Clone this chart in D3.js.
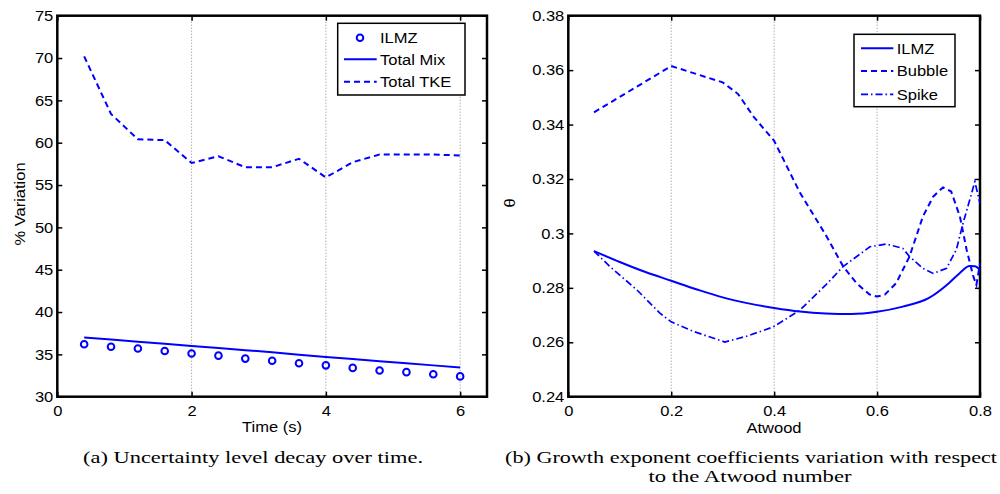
<!DOCTYPE html>
<html>
<head>
<meta charset="utf-8">
<script src="https://cdn.jsdelivr.net/npm/d3@7"></script>
<style>
  html, body { margin: 0; padding: 0; background: #fff; }
  svg { display: block; }
  .tick text { font-family: "Liberation Sans", Arial, sans-serif; font-size: 14.5px; fill: #000; }
  .sans { font-family: "Liberation Sans", Arial, sans-serif; font-size: 14.5px; fill: #000; }
  .caption { font-family: "Liberation Serif", "Times New Roman", Times, serif; font-size: 17px; fill: #000; }
</style>
</head>
<body>
<script>
// ---- Panel (a): uncertainty level over time ----
const timeS      = [0.4, 0.8, 1.2, 1.6, 2.0, 2.4, 2.8, 3.2, 3.6, 4.0, 4.4, 4.8, 5.2, 5.6, 6.0];
const ilmzVar    = [36.2, 35.9, 35.7, 35.4, 35.1, 34.85, 34.5, 34.25, 33.95, 33.7, 33.4, 33.1, 32.9, 32.65, 32.4];
const totalMix   = [37.0, 36.75, 36.5, 36.25, 36.0, 35.75, 35.5, 35.25, 34.95, 34.7, 34.45, 34.2, 33.95, 33.7, 33.45];
const totalTKE   = [70.2, 63.4, 60.4, 60.3, 57.6, 58.4, 57.1, 57.1, 58.1, 55.9, 57.7, 58.6, 58.6, 58.6, 58.5];
const timeTicks  = [0, 2, 4, 6];
const varTicks   = [30, 35, 40, 45, 50, 55, 60, 65, 70, 75];
const legendA    = ["ILMZ", "Total Mix", "Total TKE"];

// ---- Panel (b): growth exponent vs Atwood number ----
const atwoodIlmz = [0.05, 0.1, 0.15, 0.2, 0.25, 0.3, 0.35, 0.4, 0.45, 0.5, 0.55, 0.6, 0.65, 0.7, 0.74, 0.76, 0.78, 0.79, 0.8];
const thetaIlmz  = [0.2935, 0.2895, 0.2858, 0.2826, 0.2794, 0.2765, 0.2743, 0.2726, 0.2713, 0.2706, 0.2704, 0.2712, 0.2731, 0.2762, 0.2818, 0.2853, 0.2880, 0.2879, 0.2866];
const atwoodBubble = [0.05, 0.2, 0.3, 0.33, 0.36, 0.4, 0.45, 0.5, 0.534, 0.56, 0.585, 0.6, 0.615, 0.637, 0.663, 0.689, 0.709, 0.728, 0.744, 0.761, 0.774, 0.787, 0.793, 0.8];
const thetaBubble  = [0.3445, 0.3615, 0.3555, 0.3512, 0.3429, 0.3340, 0.3150, 0.2995, 0.2879, 0.2817, 0.2776, 0.2768, 0.2775, 0.2817, 0.2915, 0.3062, 0.3135, 0.3169, 0.3154, 0.3062, 0.2940, 0.2842, 0.2811, 0.2890];
const atwoodSpike  = [0.05, 0.081, 0.133, 0.178, 0.2, 0.243, 0.304, 0.346, 0.398, 0.45, 0.5, 0.534, 0.586, 0.618, 0.65, 0.663, 0.689, 0.709, 0.735, 0.754, 0.767, 0.78, 0.79, 0.8];
const thetaSpike   = [0.2935, 0.2878, 0.2793, 0.2707, 0.2675, 0.2640, 0.2601, 0.2622, 0.2656, 0.2718, 0.2810, 0.2878, 0.2951, 0.2961, 0.2945, 0.2915, 0.2872, 0.2853, 0.2872, 0.2940, 0.3037, 0.3123, 0.3190, 0.3110];
const atwoodTicks  = [0, 0.2, 0.4, 0.6, 0.8];
const thetaTicks   = [0.24, 0.26, 0.28, 0.30, 0.32, 0.34, 0.36, 0.38];
const legendB      = ["ILMZ", "Bubble", "Spike"];

const BLUE = "#0000ff";
const SX = 1.14;          // horizontal widening of the sans-serif labels
const TICK = 5;

const svg = d3.select("body").append("svg").attr("width", 1000).attr("height", 494);

// widen text horizontally while keeping its anchor point
function widen(sel) {
  sel.each(function () {
    const x = +this.getAttribute("x") || 0;
    this.setAttribute("x", x / SX);
    this.setAttribute("transform", `scale(${SX},1)`);
  });
}

function panel(opts) {
  const { x, y, xTicks, yTicks, xFmt, yFmt, xGrid } = opts;
  const [L, R] = x.range();
  const [B, T] = y.range();
  const g = svg.append("g");

  // dotted vertical grid
  g.append("g").selectAll("line").data(xGrid).join("line")
    .attr("x1", d => x(d)).attr("x2", d => x(d))
    .attr("y1", T).attr("y2", B)
    .attr("stroke", "#8c8c8c").attr("stroke-width", 1).attr("stroke-dasharray", "1,2");

  // axes with inward ticks on all four sides
  const bottom = g.append("g").attr("transform", `translate(0,${B})`)
    .call(d3.axisBottom(x).tickValues(xTicks).tickFormat(xFmt).tickSize(-TICK).tickPadding(9));
  const left = g.append("g").attr("transform", `translate(${L},0)`)
    .call(d3.axisLeft(y).tickValues(yTicks).tickFormat(yFmt).tickSize(-TICK).tickPadding(4));
  g.append("g").attr("transform", `translate(0,${T})`)
    .call(d3.axisTop(x).tickValues(xTicks).tickFormat("").tickSize(-TICK));
  g.append("g").attr("transform", `translate(${R},0)`)
    .call(d3.axisRight(y).tickValues(yTicks).tickFormat("").tickSize(-TICK));
  g.selectAll(".domain").remove();
  g.selectAll(".tick line").attr("stroke", "#000").attr("stroke-width", 1.5);
  widen(bottom.selectAll("text"));
  widen(left.selectAll("text"));

  // frame
  g.append("rect").attr("x", L).attr("y", T).attr("width", R - L).attr("height", B - T)
    .attr("fill", "none").attr("stroke", "#000").attr("stroke-width", 2.5);
  return g;
}

// ================= Panel (a) =================
const xA = d3.scaleLinear().domain([0, 6.4]).range([57.3, 487]);
const yA = d3.scaleLinear().domain([30, 75]).range([396.7, 15.7]);
const gA = panel({ x: xA, y: yA, xTicks: timeTicks, yTicks: varTicks,
  xFmt: d3.format("d"), yFmt: d3.format("d"), xGrid: [2, 4, 6] });

const lineA = vals => d3.line().x((d, i) => xA(timeS[i])).y(d => yA(d))(vals);

gA.append("path").attr("d", lineA(totalTKE)).attr("fill", "none")
  .attr("stroke", BLUE).attr("stroke-width", 2).attr("stroke-dasharray", "6,4");
gA.append("path").attr("d", lineA(totalMix)).attr("fill", "none")
  .attr("stroke", BLUE).attr("stroke-width", 2);
gA.append("g").selectAll("circle").data(ilmzVar).join("circle")
  .attr("cx", (d, i) => xA(timeS[i])).attr("cy", d => yA(d)).attr("r", 3.3)
  .attr("fill", "none").attr("stroke", BLUE).attr("stroke-width", 2);

widen(gA.append("text").attr("class", "sans").attr("x", 272).attr("y", 432)
  .attr("text-anchor", "middle").text("Time (s)"));
gA.append("text").attr("class", "sans")
  .attr("transform", `translate(25,204) rotate(-90) scale(${SX},1)`)
  .attr("text-anchor", "middle").text("% Variation");

// legend (a)
{
  const lg = gA.append("g");
  lg.append("rect").attr("x", 337.7).attr("y", 23.3).attr("width", 127.3).attr("height", 71.7)
    .attr("fill", "#fff").attr("stroke", "#000").attr("stroke-width", 1.5);
  const rows = [37.7, 59.3, 81.7];
  lg.append("circle").attr("cx", 360).attr("cy", rows[0]).attr("r", 3.3)
    .attr("fill", "none").attr("stroke", BLUE).attr("stroke-width", 2);
  lg.append("line").attr("x1", 344).attr("x2", 376.7).attr("y1", rows[1]).attr("y2", rows[1])
    .attr("stroke", BLUE).attr("stroke-width", 2);
  lg.append("line").attr("x1", 344).attr("x2", 376.7).attr("y1", rows[2]).attr("y2", rows[2])
    .attr("stroke", BLUE).attr("stroke-width", 2).attr("stroke-dasharray", "6,4");
  widen(lg.selectAll("text.l").data(legendA).join("text").attr("class", "sans l")
    .attr("x", 380).attr("y", (d, i) => rows[i]).attr("dy", "0.36em").text(d => d));
}

// ================= Panel (b) =================
const xB = d3.scaleLinear().domain([0, 0.8]).range([568.3, 980]);
const yB = d3.scaleLinear().domain([0.24, 0.38]).range([396.7, 15.7]);
const gB = panel({ x: xB, y: yB, xTicks: atwoodTicks, yTicks: thetaTicks,
  xFmt: d => d === 0 ? "0" : String(+d.toFixed(2)), yFmt: d => String(+d.toFixed(2)), xGrid: [0.2, 0.4, 0.6] });

const lineB = (xs, ys, curve) => d3.line().curve(curve || d3.curveLinear)
  .x((d, i) => xB(xs[i])).y(d => yB(d))(ys);

gB.append("path").attr("d", lineB(atwoodSpike, thetaSpike)).attr("fill", "none")
  .attr("stroke", BLUE).attr("stroke-width", 1.7).attr("stroke-dasharray", "7,3,1.5,3");
gB.append("path").attr("d", lineB(atwoodBubble, thetaBubble)).attr("fill", "none")
  .attr("stroke", BLUE).attr("stroke-width", 2).attr("stroke-dasharray", "6,4");
gB.append("path").attr("d", lineB(atwoodIlmz, thetaIlmz, d3.curveMonotoneX)).attr("fill", "none")
  .attr("stroke", BLUE).attr("stroke-width", 2);

widen(gB.append("text").attr("class", "sans").attr("x", 774).attr("y", 432.7)
  .attr("text-anchor", "middle").text("Atwood"));
gB.append("text").attr("class", "sans")
  .attr("transform", `translate(515,203) rotate(-90) scale(${SX},1)`)
  .attr("text-anchor", "middle").text("θ");

// legend (b)
{
  const lg = gB.append("g");
  lg.append("rect").attr("x", 854).attr("y", 34.3).attr("width", 101).attr("height", 72.4)
    .attr("fill", "#fff").attr("stroke", "#000").attr("stroke-width", 1.5);
  const rows = [48.3, 71, 94.3];
  const dashes = [null, "6,4", "7,3,1.5,3"];
  const widths = [2, 2, 1.7];
  rows.forEach((r, i) => {
    const ln = lg.append("line").attr("x1", 861).attr("x2", 893.3).attr("y1", r).attr("y2", r)
      .attr("stroke", BLUE).attr("stroke-width", widths[i]);
    if (dashes[i]) ln.attr("stroke-dasharray", dashes[i]);
  });
  widen(lg.selectAll("text.l").data(legendB).join("text").attr("class", "sans l")
    .attr("x", 896.7).attr("y", (d, i) => rows[i]).attr("dy", "0.36em").text(d => d));
}

// ================= Captions =================
svg.append("text").attr("class", "caption").attr("x", 253).attr("y", 463)
  .attr("text-anchor", "middle").attr("textLength", 340).attr("lengthAdjust", "spacingAndGlyphs")
  .text("(a) Uncertainty level decay over time.");
svg.append("text").attr("class", "caption").attr("x", 751).attr("y", 463)
  .attr("text-anchor", "middle").attr("textLength", 492).attr("lengthAdjust", "spacingAndGlyphs")
  .text("(b) Growth exponent coefficients variation with respect");
svg.append("text").attr("class", "caption").attr("x", 750).attr("y", 481.5)
  .attr("text-anchor", "middle").attr("textLength", 203).attr("lengthAdjust", "spacingAndGlyphs")
  .text("to the Atwood number");
</script>
</body>
</html>
